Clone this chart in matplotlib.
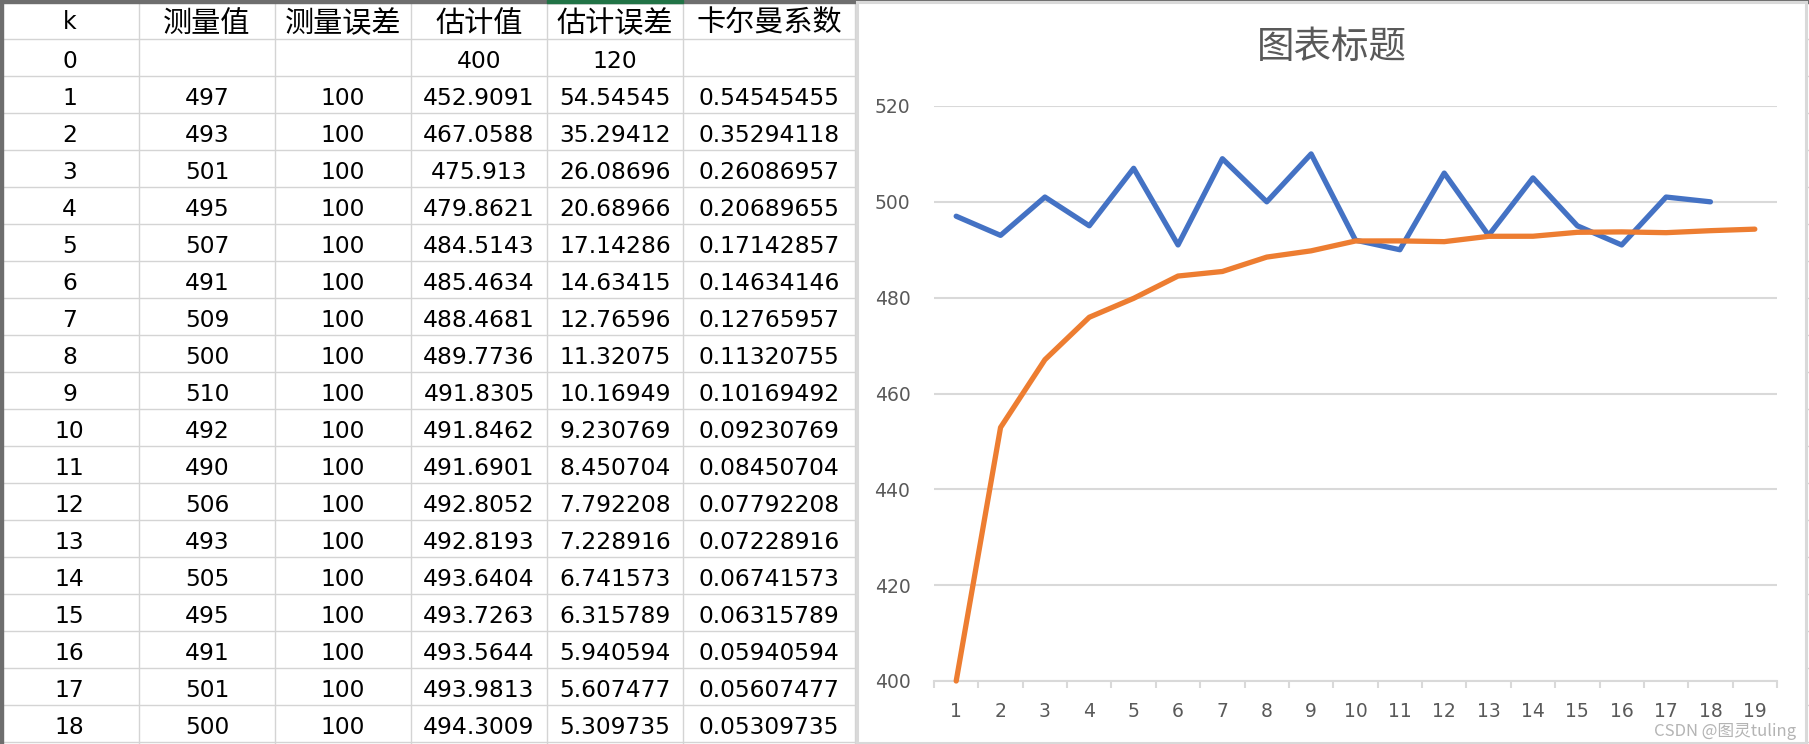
import matplotlib.pyplot as plt
from matplotlib.patches import Rectangle

# table data (as shown in the sheet)
headers = ['k', '测量值', '测量误差', '估计值', '估计误差', '卡尔曼系数']
k_vals = [str(i) for i in range(19)]
measured = ['', '497', '493', '501', '495', '507', '491', '509', '500', '510',
            '492', '490', '506', '493', '505', '495', '491', '501', '500']
meas_err = [''] + ['100'] * 18
estimate = ['400', '452.9091', '467.0588', '475.913', '479.8621', '484.5143',
            '485.4634', '488.4681', '489.7736', '491.8305', '491.8462', '491.6901',
            '492.8052', '492.8193', '493.6404', '493.7263', '493.5644', '493.9813',
            '494.3009']
est_err = ['120', '54.54545', '35.29412', '26.08696', '20.68966', '17.14286',
           '14.63415', '12.76596', '11.32075', '10.16949', '9.230769', '8.450704',
           '7.792208', '7.228916', '6.741573', '6.315789', '5.940594', '5.607477',
           '5.309735']
gain = ['', '0.54545455', '0.35294118', '0.26086957', '0.20689655', '0.17142857',
        '0.14634146', '0.12765957', '0.11320755', '0.10169492', '0.09230769',
        '0.08450704', '0.07792208', '0.07228916', '0.06741573', '0.06315789',
        '0.05940594', '0.05607477', '0.05309735']

# chart series
meas_line = [float(v) for v in measured[1:]]
est_line = [float(v) for v in estimate]
chart_title = '图表标题'
yticks = [400, 420, 440, 460, 480, 500, 520]

W, H = 1809, 744
fig = plt.figure(figsize=(W / 100, H / 100), dpi=100)
bg = fig.add_axes([0, 0, 1, 1])
bg.set_xlim(0, W)
bg.set_ylim(H, 0)
bg.axis('off')

# sheet grid
col_x = [0, 139, 275, 411, 547, 683, 855]
row_y = [0, 39] + [39 + 37 * j for j in range(1, 20)]
grid_c = '#d4d4d4'
for x in col_x[1:]:
    bg.plot([x, x], [0, H], color=grid_c, lw=1, zorder=1)
for y in row_y[1:]:
    bg.plot([0, W], [y, y], color=grid_c, lw=1, zorder=1)
bg.add_patch(Rectangle((0, 0), 3, H, color='#6e6e6e', zorder=3))
bg.add_patch(Rectangle((0, 0), W, 2.5, color='#6e6e6e', zorder=3))
bg.add_patch(Rectangle((col_x[4], 0), col_x[5] - col_x[4], 3, color='#217346', zorder=4))

columns = [k_vals, measured, meas_err, estimate, est_err, gain]
for c, h in enumerate(headers):
    cx = (col_x[c] + col_x[c + 1]) / 2
    if c == 0:
        bg.text(cx, 22, h, ha='center', va='center', fontsize=17,
                family='DejaVu Sans', zorder=2)
    else:
        bg.text(cx, 24, h, ha='center', va='center', fontsize=21,
                family=['Noto Sans CJK SC', 'DejaVu Sans'], zorder=2)
    for r, val in enumerate(columns[c]):
        cy = (row_y[r + 1] + row_y[r + 2]) / 2 + 4
        if val:
            bg.text(cx, cy, val, ha='center', va='center', fontsize=16.8,
                    family='DejaVu Sans', zorder=2)

# chart frame
bg.add_patch(Rectangle((857, 2), 949, 741, facecolor='white',
                       edgecolor='#d9d9d9', lw=2.2, zorder=5))
bg.text(1332, 47, chart_title, ha='center', va='center', fontsize=27,
        color='#595959', family=['Noto Sans CJK SC', 'DejaVu Sans'], zorder=6)
bg.text(1796, 731, 'CSDN @图灵tuling', ha='right', va='center', fontsize=12,
        color='#b4b4b4', family=['Noto Sans CJK SC', 'DejaVu Sans'], zorder=20)

# plot area
x0, x1, y0, y1 = 934, 1777, 106, 681
ax = fig.add_axes([x0 / W, 1 - y1 / H, (x1 - x0) / W, (y1 - y0) / H])
ax.set_zorder(10)
ax.patch.set_alpha(0)
gc = '#d9d9d9'
cats = list(range(1, 20))
ax.plot(cats[:len(meas_line)], meas_line, color='#4472c4', lw=3.8,
        solid_capstyle='round', solid_joinstyle='round', zorder=3, clip_on=False)
ax.plot(cats[:len(est_line)], est_line, color='#ed7d31', lw=3.8,
        solid_capstyle='round', solid_joinstyle='round', zorder=4, clip_on=False)
ax.set_xlim(0.5, 19.5)
ax.set_ylim(400, 520)
ax.set_yticks(yticks)
ax.set_xticks(cats)
ax.set_xticks([c - 0.5 for c in cats] + [19.5], minor=True)
ax.grid(axis='y', color=gc, lw=1.5, zorder=0)
for s in ['top', 'right', 'left']:
    ax.spines[s].set_visible(False)
ax.spines['bottom'].set_color(gc)
ax.spines['bottom'].set_linewidth(1.5)
ax.tick_params(axis='y', length=0, pad=17, labelsize=13.5, labelcolor='#595959')
ax.tick_params(axis='x', which='major', length=0, pad=15, labelsize=13.5,
               labelcolor='#595959')
ax.tick_params(axis='x', which='minor', length=5, width=1.5, color=gc)

fig.savefig('out.png', dpi=100)
